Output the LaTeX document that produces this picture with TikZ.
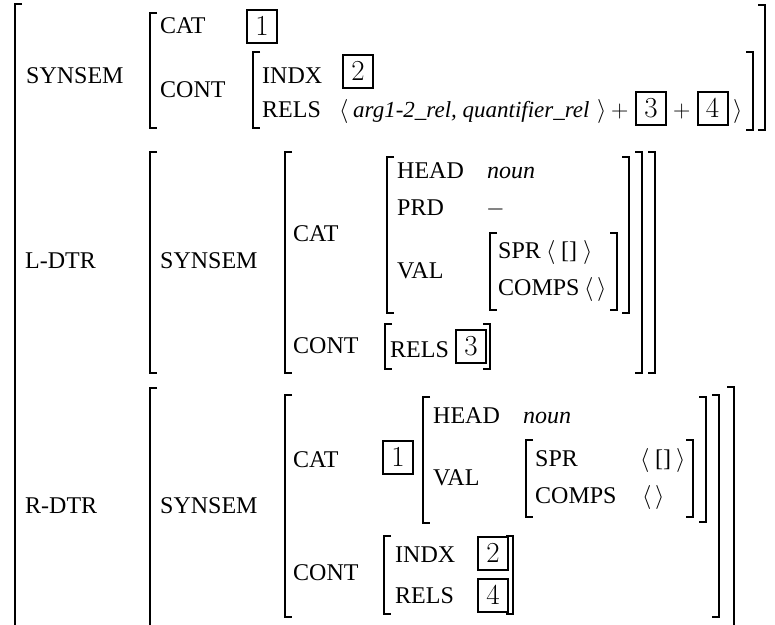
\RequirePackage{fix-cm}
\documentclass[tikz,border=0pt]{standalone}
\usepackage[no-math]{fontspec}
\setmainfont{Liberation Serif}
\newcommand\avmL[3]{\draw[brk] (#1+7,#2) -- (#1,#2) -- (#1,#3) -- (#1+7,#3);}
\newcommand\avmR[3]{\draw[brk] (#1-7,#2) -- (#1,#2) -- (#1,#3) -- (#1-7,#3);}
\begin{document}
\begin{tikzpicture}[x=1pt,y=-1pt,
  brk/.style={line width=1.8pt},
  lab/.style={font=\fontsize{24}{28}\selectfont, anchor=base west, inner sep=0pt},
  itl/.style={font=\fontsize{23}{27}\selectfont\itshape, anchor=base west, inner sep=0pt},
  tagbox/.style={draw, line width=2pt, inner sep=0pt, minimum width=30, minimum height=33, font=\fontsize{29}{34}\selectfont}]
\useasboundingbox (0,0) rectangle (775,624);
% outer bracket
\draw[brk] (22,4) -- (15,4) -- (15,625);
% ---------- top SYNSEM ----------
\node[lab] (s1) at (26,83) {SYNSEM};
\avmL{150}{13}{128}
\node[lab] (cat1) at (160,33) {CAT};
\node[tagbox] (t1a) at (262,26) {$1$};
\node[lab] (cont1) at (160,97) {CONT};
\avmL{253}{52}{128}
\node[lab] (indx1) at (262,83) {INDX};
\node[tagbox] (t2a) at (358,71) {$2$};
\node[lab] (rels1) at (262,117) {RELS};
\node[lab] (la1) at (339,117) {$\langle$};
\node[itl] (lst1) at (353,117) {arg1-2\_rel, quantifier\_rel};
\node[lab] (ra1) at (597,117) {$\rangle$};
\node[lab] (pl1) at (611,117) {$+$};
\node[tagbox] (t3a) at (651,108) {$3$};
\node[lab] (pl2) at (673,117) {$+$};
\node[tagbox] (t4a) at (712.5,108) {$4$};
\node[lab] (ra2) at (733,117) {$\rangle$};
\avmR{753}{52}{130}
\avmR{765}{5}{130}
% ---------- L-DTR ----------
\node[lab] (ldtr) at (25,268) {L-DTR};
\avmL{150}{152}{373}
\node[lab] (s2) at (160,268) {SYNSEM};
\avmL{285}{152}{373}
\node[lab] (cat2) at (293,241) {CAT};
\avmL{387}{157}{313}
\node[lab] (head2) at (397,178) {HEAD};
\node[lab] (noun2) at (487,178) {\textit{noun}};
\node[lab] (prd2) at (397,215) {PRD};
\node[lab] (minus2) at (486,215) {$-$};
\node[lab] (val2) at (397,278) {VAL};
\avmL{490}{233}{310}
\node[lab] (spr2) at (498,258) {SPR};
\node[lab] (spr2a) at (546,258) {$\langle$};
\node[lab] (spr2b) at (561,258) {[]};
\node[lab] (spr2c) at (583,258) {$\rangle$};
\node[lab] (comps2) at (498,295) {COMPS};
\node[lab] (comps2a) at (584,295) {$\langle$};
\node[lab] (comps2b) at (597,295) {$\rangle$};
\avmR{617}{233}{310}
\avmR{629}{157}{313}
\node[lab] (cont2) at (293,353) {CONT};
\avmL{385}{324}{369}
\node[lab] (rels2) at (390,357) {RELS};
\node[tagbox] (t3b) at (471,346.5) {$3$};
\avmR{490}{324}{369}
\avmR{642}{152}{373}
\avmR{655}{152}{373}
% ---------- R-DTR ----------
\node[lab] (rdtr) at (25,513) {R-DTR};
\draw[brk] (157,388) -- (150,388) -- (150,625);
\node[lab] (s3) at (160,513) {SYNSEM};
\avmL{285}{395}{617}
\node[lab] (cat3) at (293,467) {CAT};
\node[tagbox] (t1b) at (398,457.5) {$1$};
\avmL{423}{397}{523}
\node[lab] (head3) at (433,423) {HEAD};
\node[lab] (noun3) at (523,423) {\textit{noun}};
\node[lab] (val3) at (433,485) {VAL};
\avmL{526}{440}{517}
\node[lab] (spr3) at (535,466) {SPR};
\node[lab] (spr3a) at (640,466) {$\langle$};
\node[lab] (spr3b) at (655,466) {[]};
\node[lab] (spr3c) at (676,466) {$\rangle$};
\node[lab] (comps3) at (535,503) {COMPS};
\node[lab] (comps3a) at (642,503) {$\langle$};
\node[lab] (comps3b) at (655,503) {$\rangle$};
\avmR{693}{440}{517}
\avmR{706}{397}{522}
\node[lab] (cont3) at (293,580) {CONT};
\avmL{384}{536}{614}
\node[lab] (indx3) at (395,562) {INDX};
\node[tagbox] (t2b) at (493,553.5) {$2$};
\node[lab] (rels3) at (395,603) {RELS};
\node[tagbox] (t4b) at (493,595) {$4$};
\avmR{513}{536}{614}
\avmR{719}{395}{617}
\draw[brk] (727,387) -- (734,387) -- (734,625);
\end{tikzpicture}
\end{document}
